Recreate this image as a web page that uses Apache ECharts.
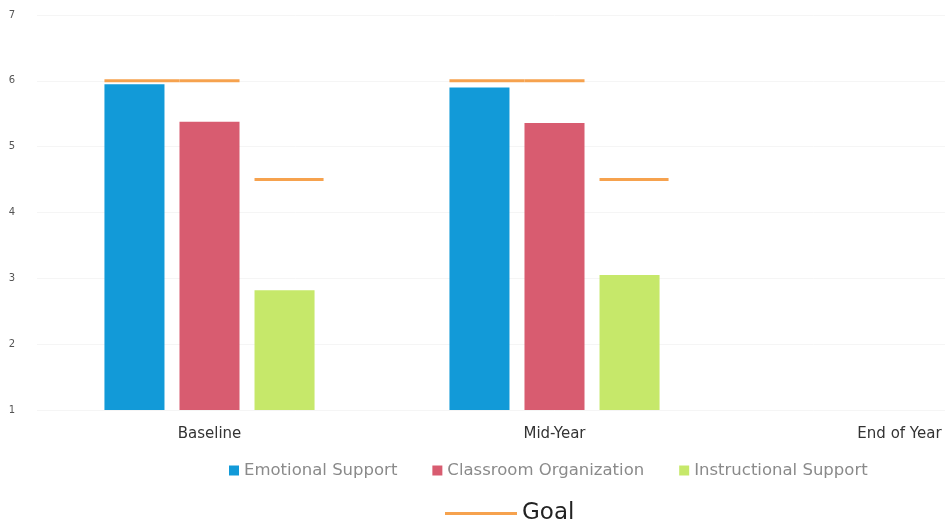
<!DOCTYPE html>
<html>
<head>
<meta charset="utf-8">
<script src="https://cdn.jsdelivr.net/npm/echarts@6/dist/echarts.min.js"></script>
<style>html,body{margin:0;padding:0;background:#fff;overflow:hidden;width:945px;height:522px}#c{width:1080px;height:522px}</style>
</head>
<body>
<div id="c"></div>
<script>
const categories = ['Baseline', 'Mid-Year', 'End of Year'];
const emotionalSupport = [5.95, 5.9, null];
const classroomOrganization = [5.38, 5.36, null];
const instructionalSupport = [2.82, 3.05, null];
const goalEmotional = [6, 6, null];
const goalClassroom = [6, 6, null];
const goalInstructional = [4.5, 4.5, null];
const yMin = 1, yMax = 7, yStep = 1;

const goalData = [];
[goalEmotional, goalClassroom, goalInstructional].forEach((arr, k) => {
  arr.forEach((v, c) => { if (v != null) goalData.push([c, v, k]); });
});

const BW = 0.174;
const chart = echarts.init(document.getElementById('c'));
chart.setOption({
  animation: false,
  textStyle: { fontFamily: '"DejaVu Sans", sans-serif' },
  grid: { left: 37, right: 8, top: 15, bottom: 112 },
  xAxis: {
    type: 'category', data: categories,
    axisLine: { show: false }, axisTick: { show: false },
    axisLabel: { interval: 0, color: '#333', fontSize: 15, margin: 17 }
  },
  yAxis: {
    type: 'value', min: yMin, max: yMax, interval: yStep,
    axisLine: { show: false }, axisTick: { show: false },
    axisLabel: { color: '#555', fontSize: 10, margin: 22 },
    splitLine: { lineStyle: { color: '#f5f5f5' } }
  },
  legend: [{
    data: ['Emotional Support', 'Classroom Organization', 'Instructional Support'],
    left: 224, top: 457, itemWidth: 10, itemHeight: 10, itemGap: 35,
    icon: 'rect',
    textStyle: { color: '#8a8a8a', fontSize: 16.5 }
  }, {
    data: [{ name: 'Goal', icon: 'rect' }],
    left: 440, top: 497, itemWidth: 72, itemHeight: 3, itemGap: 12,
    textStyle: { color: '#222', fontSize: 23 }
  }],
  series: [
    { name: 'Emotional Support', type: 'bar', data: emotionalSupport, barWidth: (BW*100)+'%', barGap: '25%', itemStyle: { color: '#129ad8' } },
    { name: 'Classroom Organization', type: 'bar', data: classroomOrganization, barWidth: (BW*100)+'%', barGap: '25%', itemStyle: { color: '#d85c70' } },
    { name: 'Instructional Support', type: 'bar', data: instructionalSupport, barWidth: (BW*100)+'%', barGap: '25%', itemStyle: { color: '#c6e86a' } },
    {
      name: 'Goal', type: 'custom', data: goalData, z: 5,
      itemStyle: { color: '#f6a24e' },
      encode: { x: 0, y: 1 },
      renderItem: function (params, api) {
        const c = api.value(0), v = api.value(1), k = api.value(2);
        const pt = api.coord([c, v]);
        const band = api.size([1, 0])[0];
        const bw = band * BW, gap = bw * 0.25;
        const cx = pt[0] + (k - 1) * (bw + gap);
        const ext = [gap, 0, gap * 0.6][k];
        return {
          type: 'line',
          shape: { x1: cx - bw / 2, y1: pt[1], x2: cx + bw / 2 + ext, y2: pt[1] },
          style: { stroke: '#f6a24e', lineWidth: 3 }
        };
      }
    }
  ]
});
</script>
</body>
</html>
